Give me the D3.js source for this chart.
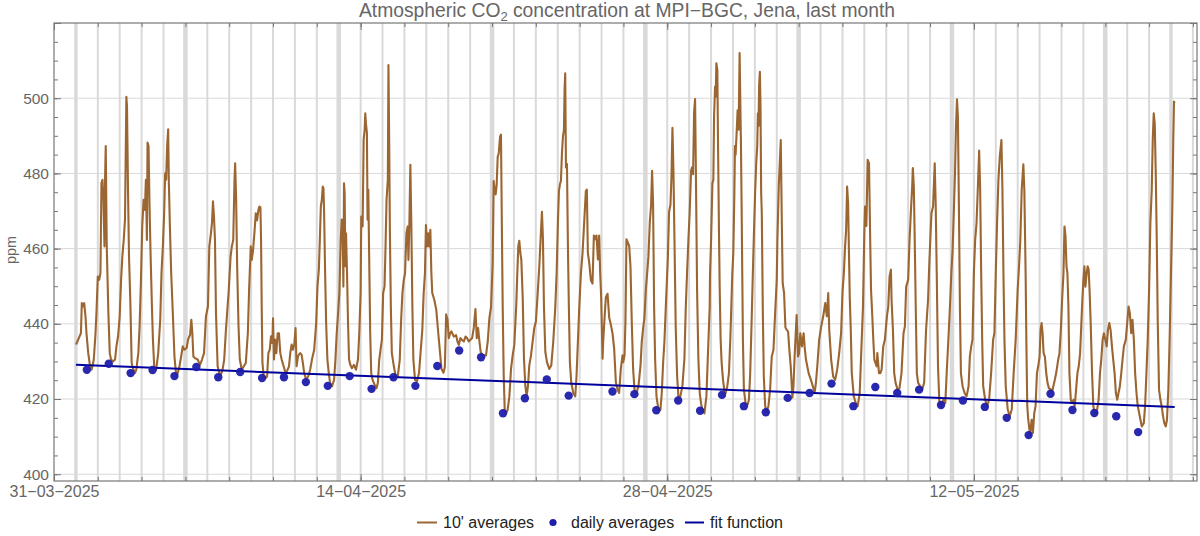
<!DOCTYPE html>
<html>
<head>
<meta charset="utf-8">
<title>Atmospheric CO2 at MPI-BGC, Jena</title>
<script src="https://cdn.jsdelivr.net/npm/d3@7"></script>
<style>
  body { margin: 0; background: #fff; }
  svg text { font-family: "Liberation Sans", Arial, Helvetica, sans-serif; }
</style>
</head>
<body>
<svg id="chart" width="1200" height="536"></svg>
<script>
// CO2 record, Jena - 10 minute averages, daily averages and a linear fit

// first record: 01-04-2025 00:00 (UTC), all times below are hours after it
const recordStart = Date.UTC(2025, 3, 1);

// 10' averages, [hours, ppm]
const tenMinAvg = [
  [0.2,434.5],[2.5,435.8],[5.5,437.5],[6.5,445.5],[8.0,444.6],[9.1,445.5],[10.5,442],[11.6,437.5],[13.5,432.2],[15.3,429.1],[17.1,427.8],[18.2,428.7],[19.6,430.5],[21.5,437.5],[22.5,442.8],[24.0,452.6],
  [25.5,451.7],[26.9,453.5],[28.0,477.4],[29.1,478.3],[30.2,473],[31.3,460.6],[32.0,479.2],[32.7,487.3],[33.8,460.6],[35.6,442.8],[37.1,432.2],[38.5,430.5],[40.7,430],[42.9,430.5],[44.4,434],[46.2,436.7],[48.0,442],
  [49.5,451.7],[50.9,457.9],[52.4,462.3],[53.8,467.7],[55.3,500.4],[56.0,497.8],[57.1,475.6],[58.2,457.9],[59.6,446.4],[61.1,429.6],[62.5,428.2],[64.7,426.9],[66.2,427.8],[68.4,432.2],[69.8,439.3],[71.3,451.7],
  [72.7,465.9],[74.2,473],[75.6,470.3],[76.7,478.3],[77.8,462.3],[78.5,488.2],[79.6,487.3],[80.7,471.2],[81.8,458.8],[83.3,444.6],[84.4,435.8],[85.8,428.7],[88.0,427.8],[90.2,432.2],[92.4,441],[93.8,453.5],[95.3,460.6],
  [96.7,469.4],[97.8,480],[98.9,478.3],[100.0,487.3],[101.1,491.7],[101.8,478.3],[102.9,466.8],[104.4,453.5],[106.2,442.8],[108.0,431.3],[109.8,426.5],[111.6,426.9],[113.5,428.7],[115.3,431.3],[117.1,434],[118.9,433.1],
  [121.4,433.6],[122.9,435.8],[125.1,437.1],[126.5,441.1],[127.6,437.5],[128.7,431.3],[130.9,430.8],[133.4,430.5],[136.0,429.1],[138.2,430.5],[140.4,432.2],[142.5,442],
  [144.7,444.6],[146.2,460.6],[148.0,464.1],[149.1,466.8],[150.2,472.6],[151.3,468.5],[152.4,462.3],[153.5,442.8],[155.3,428.7],[157.1,426.9],[158.9,426.5],[160.7,427.8],[162.5,430.5],[164.4,438.4],[166.2,444.6],[167.3,448.2],
  [169.5,457.9],[170.9,460.6],[172.4,462.3],[173.8,478.3],[174.5,482.7],[175.6,473],[176.7,455.3],[178.2,439.3],[179.6,430.5],[181.8,427.8],[184.0,428.7],[186.2,429.6],[188.4,437.5],[189.8,449.1],[191.6,460.6],
  [192.7,457],[194.2,459.8],[195.6,464.1],[197.1,469.4],[198.5,467.5],[200.0,470.3],[201.1,471.2],[202.2,471],[202.9,462.3],[203.6,444.6],[204.4,429.6],[205.8,426],[208.0,425.6],[209.5,426],[210.9,432.2],[212.4,433.1],[213.8,436.7],[215.3,434.9],
  [216.0,441.5],[217.1,430.5],[218.2,435.8],[219.6,432.2],[221.1,437.5],[222.5,437.5],[224.0,432.2],[225.5,430.5],[227.6,428.7],[229.8,426.9],[232.0,427.8],[233.5,428.7],[234.9,432.2],[236.4,434.5],[237.8,433.1],[239.3,434.5],
  [240.7,438.9],[241.8,428.7],[243.3,431.3],[244.4,431.8],[245.8,432.2],[247.3,431.8],[248.7,429.6],[250.2,426.9],[252.4,425.1],[254.5,426],[256.7,427.8],[258.9,430.8],[261.1,433.1],[263.3,440.2],
  [264.7,449.9],[266.2,454.4],[267.3,462.3],[268.4,471.2],[269.5,473],[270.5,476.5],[271.3,476],[272.0,469.4],[273.1,453.5],[274.2,440.2],[275.6,430.5],[277.1,426.9],[278.5,424.3],[280.7,423.4],[282.9,425.1],[284.4,430.5],[285.8,437.5],[287.3,442.8],
  [288.7,448.2],[290.2,462.3],[291.3,467.7],[292.4,464.1],[293.1,449.9],[293.8,477.4],[294.5,474.7],[295.3,455.3],[296.0,464.1],[297.1,453.5],[298.2,440.2],[299.3,430.5],[300.7,429.1],[302.5,428.2],[304.7,429.1],[306.9,427.8],[309.1,430.5],[310.5,437.5],[312.0,448.2],
  [312.7,468.5],[314.2,465.9],[315.3,488.9],[316.4,491.6],[317.1,496],[317.8,493.3],[318.9,490.7],[319.6,467.7],[320.4,475.7],[321.5,455.3],[322.5,437.5],[323.6,426.9],[325.1,425.1],[327.3,423.8],[329.5,422.9],[330.9,424.3],[332.4,430.5],[333.8,433.1],[335.3,435.8],
  [336.7,448.2],[338.2,449.9],[339.3,460.6],[340.4,473],[341.8,478.3],[342.5,508.8],[343.3,488.9],[344.0,465.9],[345.1,444.6],[346.2,432.2],[348.4,428.7],[350.5,426],[352.7,426],[354.9,430.5],[356.4,441.1],[357.8,448.2],[359.3,451.7],
  [360.7,453.5],[362.2,464.1],[363.6,465.9],[364.4,457],[365.5,467.7],[366.5,482.3],[367.6,465.9],[368.7,444.6],[369.8,430.5],[371.6,425.1],[373.8,424.7],[376.0,426.9],[378.2,434],[379.6,438.4],[381.1,448.2],[382.5,453.5],
  [383.6,466.3],[384.7,460.6],[385.8,464.1],[386.9,460.6],[388.4,465],[389.5,453.5],[390.5,448.2],[392.7,446.4],[394.9,443.7],[397.1,437.5],
  [400.6,428],[402.8,427],[404.3,428.5],[405.7,442.5],[407.2,441.2],[408.6,436.2],[410.1,437.5],[411.5,438],[414.1,436.6],[416.6,437],[418.1,435.3],[419.6,434.4],[421.4,436.2],[423.2,435.7],[425.1,435.3],[426.9,436.6],
  [428.7,436.2],[430.5,435.3],[434.2,436.2],[436.0,438.9],[437.8,443.9],[439.3,436.2],[440.7,438.9],[442.2,435.3],[443.6,432.5],[445.8,431.6],[449.4,431.6],[451.3,435.3],[453.1,441.6],[454.9,444.4],
  [456.7,456.2],[457.8,478],[458.9,475.3],[460.0,474.4],[461.1,477.1],[462.2,484.4],[463.3,485.3],[464.8,489.8],[465.8,490.3],[466.9,462.5],[467.7,444.4],[468.8,426.2],[469.9,417.1],[471.3,416.2],[473.1,417.1],[475.0,420.7],[476.8,428],[478.6,431.6],
  [480.4,434.4],[481.5,439.8],[482.6,445.3],[483.7,453.5],[484.8,460.7],[485.9,462.1],[487.0,458.9],[488.1,457],[489.6,447.1],[491.0,430.7],[492.5,423.5],[493.9,420.7],[495.4,423.5],[496.8,428.9],[498.7,431.6],[500.5,435.3],[502.3,438.9],
  [504.1,440.7],[506.0,448],[507.8,455.3],[509.2,462.5],[510.7,469.8],[511.8,462.5],[512.9,444.4],[514.4,432.5],[516.2,429.8],[518.7,428],[520.9,428.9],[523.1,435.3],[525.3,444.4],[526.8,453.5],
  [528.2,467.1],[529.3,475.3],[530.4,477.1],[531.5,478],[532.6,485.3],[533.7,489.8],[534.8,491.6],[535.5,502.5],[536.2,506.6],[537.0,481.6],[538.1,482.5],[539.2,459.8],[540.2,444.4],[541.3,429.8],[542.8,424.4],[545.0,421.6],[547.2,420.7],[548.6,426.2],[550.1,435.3],[551.6,444.4],
  [553.4,453.5],[555.2,458.9],[557.0,467.1],[558.8,475.3],[559.9,475.7],[561.0,458.9],[562.5,456.2],[564.3,451.6],[566.1,450.7],[567.6,463.5],[569.1,462.5],[570.5,463.5],[572.0,457.1],[573.4,463.5],[574.5,453.5],[575.6,447.1],[577.1,430.7],
  [577.8,435.3],[579.3,441.6],[580.7,447.1],[582.6,448],[584.4,441.6],[586.2,439.8],[588.0,437.5],[589.8,433.5],[591.7,424.4],[593.5,422.5],[595.3,421.6],[597.1,428],[599.0,431.6],
  [599.7,429.8],[601.2,431.6],[602.2,440.7],[603.3,462.5],[604.8,461.6],[606.3,460.7],[607.7,455.3],[609.2,439.8],[610.6,428],[612.1,422.5],[614.3,421.6],[616.5,423.5],[618.7,428.9],[620.1,435.3],[621.6,438.9],[623.0,441.6],
  [624.5,448.9],[626.0,453.5],[627.4,458],[628.9,467.1],[630.3,471.6],[631.4,480.7],[632.5,471.6],[633.6,444.4],[634.7,430.7],[636.2,420.7],[638.4,417.1],[640.5,417.1],[642.0,421.6],[643.5,429.8],[644.9,435.3],[646.4,444.4],
  [648.6,457.1],[650.0,469.8],[651.5,471.6],[652.6,478.9],[653.7,492.1],[654.8,480.7],[655.9,462.5],[657.3,438.9],[658.8,426.2],[660.2,420.7],[662.4,420.7],[664.6,423.5],[666.8,430.7],[668.3,444.4],[669.7,453.5],[671.2,462.5],
  [672.6,469.8],[674.1,480.7],[675.2,481.6],[676.3,479.8],[677.4,496.2],[678.5,499.8],[679.6,475.3],[680.7,448.9],[682.1,430.7],[683.6,421.6],[685.0,418.9],[686.5,417.1],[688.7,416.2],[690.9,420.7],[693.1,435.3],[694.5,444.4],[694.9,453.5],
  [696.0,462],[697.5,477.4],[698.5,478.3],[699.3,495.1],[700.4,503.1],[701.1,500.4],[701.8,509.3],[702.9,507.5],[703.6,488.9],[704.7,464.1],[705.5,449],[706.5,435.8],[707.6,429.6],[709.1,425.1],[710.5,422.5],[712.0,421.6],[713.8,423.4],[715.6,426.9],[717.1,435.8],[718.2,444.6],[719.3,453.5],
  [720.4,458.8],[721.5,474],[722.2,487.3],[722.9,485],[724.0,490.7],[725.1,496.8],[726.2,491.6],[727.3,512],[728.0,500],[728.7,489],[729.5,471.2],[730.2,453.5],[730.9,435.8],[732.0,422.5],[733.8,418.9],[736.0,418.5],[737.5,419.8],[738.9,426.9],[740.4,440.2],[741.8,453.5],[743.3,466.8],
  [744.4,475.6],[745.5,482.7],[746.6,487.3],[747.3,496],[748.0,492.6],[748.7,503.5],[749.5,507],[750.2,498],[750.9,475],[751.6,469.4],[752.7,443.7],[753.8,426],[755.3,418.1],[757.1,416.7],[758.9,418.1],[760.7,422.5],[762.5,431.3],[764.4,433.1],[766.2,442.8],
  [768.0,451.7],[768.7,462.3],[770.2,476.5],[771.3,482.7],[772.4,488.9],[773.5,467.7],[774.5,450.8],[776.0,448.2],[777.5,439],[778.9,438.4],[780.4,438],[781.8,433.1],[783.3,428.7],[785.1,420.4],[786.2,423],[787.6,431.3],[788.7,437],[789.8,442.3],
  [791.3,431.3],[792.4,432.2],[793.8,437.5],[795.6,434],[797.5,437.5],[798.5,434],[800.0,430.5],[802.9,426.9],[806.5,424.3],[809.5,421.6],[810.9,424.3],[812.4,428.7],[814.5,435.8],[816.7,439.3],
  [818.9,442],[821.1,445.5],[822.9,442],[824.4,448.2],[825.5,438.4],[827.6,430.5],[829.8,426],[832.0,425.1],[834.2,427.8],[836.4,432.2],[838.5,437.5],
  [840.0,448.2],[841.5,453.5],[842.9,460.6],[844.0,465],[845.1,476.5],[846.2,472],[846.9,462],[848.0,447],[849.1,438.4],[850.2,426.9],[852.4,420.7],[854.5,419],[856.7,418.1],[858.9,421.6],[861.1,435.8],[862.5,444.6],
  [864.0,465],[864.7,471.2],[866.2,466],[867.6,483.6],[869.1,482.7],[870.5,460.6],[871.3,449.1],[872.7,442],[873.8,435.8],[874.9,430.5],[877.5,428.7],[878.2,432.2],[880.0,426.9],[881.5,426.9],[882.9,427.8],[884.7,434],[886.5,435.8],
  [888.7,442],[890.2,444.6],[891.6,452.6],[893.1,454.4],[893.8,446.4],[895.3,438.4],[896.7,426.9],[898.2,424.3],[900.4,422.5],[902.5,422.9],[904.7,426.9],[906.9,437.5],[908.4,439.3],[909.8,449.9],
  [912.0,451.7],[913.5,462.3],[914.9,469.4],[916.4,476.5],[917.1,481.4],[918.2,476.5],[919.3,460.6],[920.4,442.9],[921.5,426.9],[922.9,424.3],[925.1,423.4],[927.3,422.5],[929.5,424.3],[931.6,438.4],[933.8,446.4],
  [935.3,457],[937.5,469.4],[939.3,471.2],[941.1,482.7],[942.2,471.2],[943.3,453.5],[944.7,428.7],[946.2,418.9],[948.4,418.1],[950.5,419.8],[952.7,418.9],[954.2,426.9],[956.4,437.5],[957.8,444.6],
  [959.3,453.5],[960.7,459.7],[962.2,471.2],[963.3,480.1],[964.4,492.5],[965.5,499.7],[966.5,495.1],[967.6,471.2],[968.7,444.6],[969.8,426.9],[971.6,423.4],[973.8,421.6],[976.0,420.7],[978.2,423.4],[979.6,431.3],[981.1,434],
  [982.5,435.8],[984.0,453.5],[985.4,462.3],[986.9,466.8],[988.4,476.5],[989.8,486.1],[990.9,475.6],[992.0,453.5],[993.1,435.8],[994.2,423.4],[996.4,419.8],[998.5,418.1],[1000.7,419.8],[1002.9,426.9],[1005.1,435.8],
  [1006.5,437.5],[1008.0,453.5],[1009.4,466.8],[1010.9,478.3],[1012.4,484.5],[1014.2,488.9],[1015.3,475.6],[1016.4,453.5],[1017.5,435.8],[1018.9,423.4],[1021.1,417.2],[1023.3,415.4],[1025.5,417.2],[1027.6,426.9],
  [1029.8,435.8],[1032.0,449.1],[1033.5,455.3],[1034.9,462.3],[1036.4,475.6],[1038.2,482.4],[1039.3,475.6],[1040.7,453.5],[1041.5,435.8],[1042.5,418.1],[1043.6,414.5],[1045.5,410.5],[1047.3,414.5],[1048.7,411],[1050.2,416.3],[1051.6,418.1],[1053.1,426.9],[1054.5,428.7],
  [1056.0,431.3],[1057.1,438.4],[1058.2,440.2],[1059.3,437.5],[1060.4,432.2],[1061.8,431.3],[1063.3,426.9],[1064.7,424.3],[1066.2,422.9],[1068.4,422.5],[1069.8,422],[1072.0,424.3],[1074.2,426.9],[1076.4,430.5],[1077.8,432.2],[1079.3,438.4],
  [1080.7,446.4],[1082.2,453.5],[1083.3,465.9],[1084.4,463.3],[1085.5,455.3],[1086.5,453.5],[1087.6,444.6],[1088.7,426.9],[1090.2,419.8],[1091.6,418.9],[1093.1,419.8],[1094.5,418.1],[1096.0,422.5],[1097.5,426.9],[1098.9,428.7],[1100.4,432.2],[1101.8,440.2],
  [1102.9,446.4],[1104.0,451.7],[1105.1,455.3],[1106.2,449.9],[1107.6,453.5],[1108.7,455.3],[1109.8,454.4],[1110.9,448.2],[1112.0,440.2],[1113.5,426.9],[1114.9,418.1],[1116.4,416.3],[1118.5,416.3],[1120.7,419.8],[1122.2,426.9],[1123.6,430.5],[1125.1,435.8],[1126.5,437.5],
  [1128.0,435.8],[1129.5,434],[1130.9,438.4],[1132.4,440.2],[1133.8,438.4],[1135.3,434],[1136.7,430.5],[1138.2,426.9],[1139.6,421.6],[1141.1,419.8],[1142.5,421.6],[1144.0,423.4],[1145.5,426.9],[1146.9,430.5],[1148.4,434],[1150.5,435.8],
  [1152.0,440.2],[1153.5,444.6],[1154.9,442.9],[1156.4,437.5],[1157.8,441.1],[1159.3,435.8],[1160.7,426.9],[1162.2,421.6],[1163.6,418.1],[1165.8,415.4],[1168.0,412.7],[1170.2,413.6],[1171.6,418.1],[1173.1,426.9],[1174.5,435.8],
  [1176.0,449.1],[1177.4,466.8],[1178.9,475.6],[1180.0,488.9],[1181.1,496],[1182.2,493.3],[1183.3,480.1],[1184.4,462.3],[1185.5,440.2],[1186.9,422.5],[1188.4,419.8],[1189.8,418.1],[1191.3,415.4],[1192.7,413.6],[1194.2,412.7],[1195.6,414.5],[1197.1,422.5],[1198.5,435.8],
  [1200.0,453.5],[1201.5,471.2],[1202.5,488.9],[1203.3,499.1],[1204.0,498.7]
];

// daily averages, one per day from 01-04 (plotted at noon), null = no value
const dailyAvg = [
  427.8, 429.4, 426.9, 427.7, 426.1, 428.5, 425.8, 427.2, 425.6, 425.8,
  424.5, 423.5, 426.1, 422.7, 425.8, 423.5, 428.8, 432.9, 431.1, 416.2,
  420.2, 425.2, 420.9, null, 422.0, 421.3, 417.0, 419.6, 416.9, 421.1,
  418.1, 416.5, 420.3, 421.6, 424.1, 418.1, 423.2, 421.6, 422.5, 418.4,
  419.6, 417.9, 415.0, 410.4, 421.4, 417.1, 416.3, 415.4, 411.2
];

// linear fit, end points [hours, ppm]
const fitLine = [[0, 429.1], [1204, 417.9]];

// axis ticks
const dateTickLabels = ["2025-03-31", "2025-04-14", "2025-04-28", "2025-05-12"];
const ppmTickLabels = [400, 420, 440, 460, 480, 500];

const legendItems = ["10' averages", "daily averages", "fit function"];

// colours
const BROWN = "#9b6632";
const DOT_BLUE = "#1e1eab";
const FIT_BLUE = "#00009c";
const GRID = "#d9d9d9";
const FRAME = "#777";
const LABEL = "#666";

const HOUR = 3600 * 1000;
const plot = { left: 54, right: 1197, top: 23, bottom: 481 };

const svg = d3.select("#chart");

const x = d3.scaleUtc()
    .domain([Date.UTC(2025, 2, 31), Date.UTC(2025, 4, 22, 4, 30)])
    .range([plot.left, plot.right]);

const y = d3.scaleLinear()
    .domain([398.2, 520])
    .range([plot.bottom, plot.top]);

const toDate = h => new Date(recordStart + h * HOUR);

// grid: midnight lines (Sundays drawn wider) and ppm lines
function drawGrid() {
    const g = svg.append("g").attr("class", "grid");
    const days = d3.utcDay.range(new Date(recordStart), new Date(Date.UTC(2025, 4, 23)));
    const lastDay = Date.UTC(2025, 4, 21);

    g.selectAll("line.day")
        .data(days)
        .enter()
        .append("line")
        .attr("class", "day")
        .attr("x1", d => x(d)).attr("x2", d => x(d))
        .attr("y1", plot.top).attr("y2", plot.bottom)
        .attr("stroke", GRID)
        .attr("stroke-width", d => {
            if (d.getUTCDay() === 0) return 4.5;
            if (+d === recordStart || +d === lastDay) return 3.4;
            return 2;
        });

    g.selectAll("line.ppm")
        .data(ppmTickLabels)
        .enter()
        .append("line")
        .attr("class", "ppm")
        .attr("x1", plot.left).attr("x2", plot.right)
        .attr("y1", d => y(d)).attr("y2", d => y(d))
        .attr("stroke", GRID)
        .attr("stroke-width", 1);
}

// frame with inward ticks on all four sides
function drawAxes() {
    const axisStart = new Date(Date.UTC(2025, 2, 31));
    const minorDates = d3.range(0, 53, 2).map(n => d3.utcDay.offset(axisStart, n));
    const majorDates = dateTickLabels.map(s => new Date(s + "T00:00:00Z"));
    const minorPpm = d3.range(400, 521, 5);
    const majorPpm = ppmTickLabels.concat([520]);
    const fmt = d3.utcFormat("%d\u2212%m\u2212%Y");

    const bottom = plot.bottom, top = plot.top, left = plot.left, right = plot.right;

    function style(sel, size) {
        sel.select(".domain").remove();
        sel.selectAll("line").attr("stroke", FRAME);
        sel.selectAll("text")
            .attr("fill", LABEL)
            .attr("font-size", size || "15.5px")
            .attr("font-family", "'Liberation Sans', Arial, sans-serif");
    }

    // bottom
    svg.append("g").attr("transform", `translate(0,${bottom})`)
        .call(d3.axisBottom(x).tickValues(minorDates).tickSize(-4).tickFormat(""))
        .call(style);
    svg.append("g").attr("transform", `translate(0,${bottom})`)
        .call(d3.axisBottom(x).tickValues(majorDates).tickSize(-7).tickPadding(5).tickFormat(fmt))
        .call(style, "16px");

    // top
    svg.append("g").attr("transform", `translate(0,${top})`)
        .call(d3.axisTop(x).tickValues(minorDates).tickSize(-4).tickFormat(""))
        .call(style);
    svg.append("g").attr("transform", `translate(0,${top})`)
        .call(d3.axisTop(x).tickValues(majorDates).tickSize(-7).tickFormat(""))
        .call(style);

    // left
    svg.append("g").attr("transform", `translate(${left},0)`)
        .call(d3.axisLeft(y).tickValues(minorPpm).tickSize(-4).tickFormat(""))
        .call(style);
    svg.append("g").attr("transform", `translate(${left},0)`)
        .call(d3.axisLeft(y).tickValues(majorPpm).tickSize(-7).tickPadding(5)
            .tickFormat(d => d === 520 ? "" : d))
        .call(style, "15.5px");

    // right
    svg.append("g").attr("transform", `translate(${right},0)`)
        .call(d3.axisRight(y).tickValues(minorPpm).tickSize(-4).tickFormat(""))
        .call(style);
    svg.append("g").attr("transform", `translate(${right},0)`)
        .call(d3.axisRight(y).tickValues(majorPpm).tickSize(-7).tickFormat(""))
        .call(style);

    svg.append("rect")
        .attr("x", left).attr("y", top)
        .attr("width", right - left).attr("height", bottom - top)
        .attr("fill", "none")
        .attr("stroke", FRAME)
        .attr("stroke-width", 1.2);

    svg.append("text")
        .attr("transform", "translate(16,250) rotate(-90)")
        .attr("text-anchor", "middle")
        .attr("fill", LABEL)
        .attr("font-size", "14.5px")
        .text("ppm");
}

function drawData() {
    const g = svg.append("g");

    const line = d3.line()
        .x(d => x(toDate(d[0])))
        .y(d => y(d[1]));

    g.append("path")
        .datum(tenMinAvg)
        .attr("fill", "none")
        .attr("stroke", BROWN)
        .attr("stroke-width", 2.1)
        .attr("stroke-linejoin", "round")
        .attr("d", line);

    g.append("path")
        .datum(fitLine)
        .attr("fill", "none")
        .attr("stroke", FIT_BLUE)
        .attr("stroke-width", 2)
        .attr("d", line);

    const daily = dailyAvg
        .map((v, i) => [i * 24 + 12, v])
        .filter(d => d[1] !== null);

    g.selectAll("circle.daily")
        .data(daily)
        .enter()
        .append("circle")
        .attr("class", "daily")
        .attr("cx", d => x(toDate(d[0])))
        .attr("cy", d => y(d[1]))
        .attr("r", 4.2)
        .attr("fill", DOT_BLUE)
        .attr("fill-opacity", 0.95);
}

function drawTitle() {
    const t = svg.append("text")
        .attr("x", 627)
        .attr("y", 17)
        .attr("text-anchor", "middle")
        .attr("fill", LABEL)
        .attr("font-size", "19.3px");
    t.append("tspan").text("Atmospheric CO");
    t.append("tspan").text("2").attr("font-size", "13px").attr("dy", 4);
    t.append("tspan").text(" concentration at MPI\u2212BGC, Jena, last month").attr("dy", -4);
}

function drawLegend() {
    const g = svg.append("g").attr("font-size", "16px").attr("fill", "#222");
    const cy = 522.5;

    g.append("line")
        .attr("x1", 417).attr("x2", 437).attr("y1", cy).attr("y2", cy)
        .attr("stroke", BROWN).attr("stroke-width", 2);
    g.append("text").attr("x", 443).attr("y", cy + 5.5).text(legendItems[0]);

    g.append("circle")
        .attr("cx", 553).attr("cy", cy).attr("r", 3.6)
        .attr("fill", DOT_BLUE);
    g.append("text").attr("x", 571).attr("y", cy + 5.5).text(legendItems[1]);

    g.append("line")
        .attr("x1", 685).attr("x2", 704).attr("y1", cy).attr("y2", cy)
        .attr("stroke", FIT_BLUE).attr("stroke-width", 2);
    g.append("text").attr("x", 710).attr("y", cy + 5.5).text(legendItems[2]);
}

drawGrid();
drawAxes();
drawData();
drawTitle();
drawLegend();
</script>
</body>
</html>
